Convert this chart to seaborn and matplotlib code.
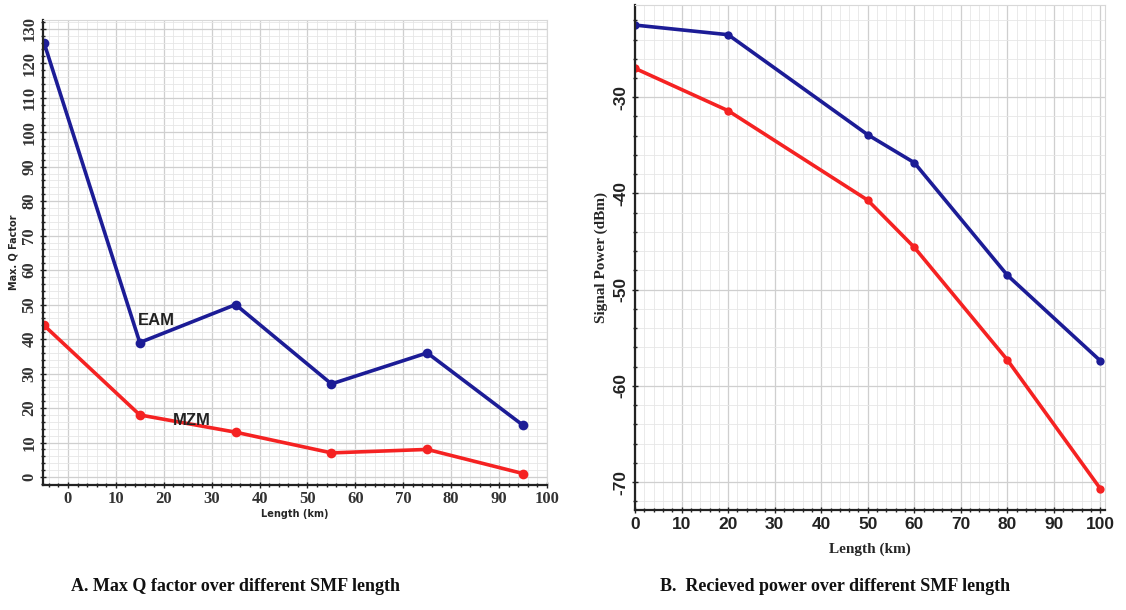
import matplotlib
matplotlib.use("Agg")
import matplotlib.pyplot as plt
import seaborn as sns
from matplotlib.ticker import AutoMinorLocator

# Panel A: Max Q factor vs length
length_a = [-5, 15, 35, 55, 75, 95]
q_eam = [126, 39, 50, 27, 36, 15]
q_mzm = [44, 18, 13, 7, 8, 1]

# Panel B: received power vs length
length_b = [0, 20, 50, 60, 80, 100]
p_blue = [-22.5, -23.5, -33.9, -36.8, -48.5, -57.4]
p_red = [-27.0, -31.4, -40.7, -45.6, -57.3, -70.7]

blue = "#1c1c96"
red = "#f52222"

sns.set_theme(style="whitegrid")

fig = plt.figure(figsize=(11.26, 6.10), dpi=100)
ax1 = fig.add_axes([0.0382, 0.205, 0.4476, 0.762])
ax2 = fig.add_axes([0.564, 0.164, 0.4174, 0.828])

for ax in (ax1, ax2):
    ax.set_facecolor("white")
    ax.grid(True, which="major", color="#cfcfcf", linewidth=0.9)
    ax.grid(True, which="minor", color="#e6e6e6", linewidth=0.6)
    ax.xaxis.set_minor_locator(AutoMinorLocator(5))
    ax.yaxis.set_minor_locator(AutoMinorLocator(5))
    for side in ("top", "right"):
        ax.spines[side].set_color("#d8d8d8")
        ax.spines[side].set_linewidth(0.8)
    for side in ("left", "bottom"):
        ax.spines[side].set_color("#222222")
        ax.spines[side].set_linewidth(1.6)
    ax.tick_params(which="both", direction="inout", colors="#222222",
                   left=True, bottom=True, length=4, width=1)
    ax.tick_params(which="minor", length=3)

# ----- Panel A -----
sns.lineplot(x=length_a, y=q_eam, ax=ax1, color=blue, linewidth=2.6,
             marker="o", markersize=7, markeredgewidth=0)
sns.lineplot(x=length_a, y=q_mzm, ax=ax1, color=red, linewidth=2.6,
             marker="o", markersize=7, markeredgewidth=0)
ax1.set_xlim(-5.2, 100)
ax1.set_ylim(-2.3, 132.5)
ax1.set_xticks(range(0, 101, 10))
ax1.set_xticklabels([str(v) for v in range(0, 101, 10)],
                    fontfamily="Liberation Serif", fontweight="bold",
                    fontsize=12, color="#333333")
ax1.set_yticks(range(0, 131, 10))
ax1.set_yticklabels([str(v) for v in range(0, 131, 10)],
                    fontfamily="Liberation Serif", fontweight="bold",
                    fontsize=12, color="#333333", rotation=90, va="center")
ax1.tick_params(axis="both", pad=2)
ax1.set_xlabel("Length (km)", fontsize=7, fontweight="bold", labelpad=2)
ax1.set_ylabel("Max. Q Factor", fontsize=7, fontweight="bold", labelpad=2)
ax1.text(14.5, 44, "EAM", fontsize=12, fontweight="bold", color="#222222",
         fontfamily="Liberation Sans")
ax1.text(22, 15, "MZM", fontsize=12, fontweight="bold", color="#222222",
         fontfamily="Liberation Sans")

# ----- Panel B -----
sns.lineplot(x=length_b, y=p_blue, ax=ax2, color=blue, linewidth=2.6,
             marker="o", markersize=6, markeredgewidth=0)
sns.lineplot(x=length_b, y=p_red, ax=ax2, color=red, linewidth=2.6,
             marker="o", markersize=6, markeredgewidth=0)
ax2.set_xlim(0, 101)
ax2.set_ylim(-72.9, -20.4)
ax2.set_xticks(range(0, 101, 10))
ax2.set_xticklabels([str(v) for v in range(0, 101, 10)], fontsize=12.5,
                    fontweight="bold", color="#222222",
                    fontfamily="Liberation Sans")
ax2.set_yticks([-70, -60, -50, -40, -30])
ax2.set_yticklabels(["-70", "-60", "-50", "-40", "-30"], fontsize=12.5,
                    fontweight="bold", color="#222222", rotation=90,
                    va="center", fontfamily="Liberation Sans")
ax2.tick_params(axis="both", pad=3)
ax2.set_xlabel("Length (km)", fontsize=11, fontweight="bold",
               fontfamily="Liberation Serif", labelpad=8)
ax2.set_ylabel("Signal Power (dBm)", fontsize=11, fontweight="bold",
               fontfamily="Liberation Serif", labelpad=4)

# captions
fig.text(0.209, 0.024, "A. Max Q factor over different SMF length",
         fontsize=13, fontweight="bold", fontfamily="Liberation Serif",
         ha="center", va="bottom", color="#111111")
fig.text(0.742, 0.024, "B.  Recieved power over different SMF length",
         fontsize=13, fontweight="bold", fontfamily="Liberation Serif",
         ha="center", va="bottom", color="#111111")

fig.savefig("out.png", dpi=100, facecolor="white")
